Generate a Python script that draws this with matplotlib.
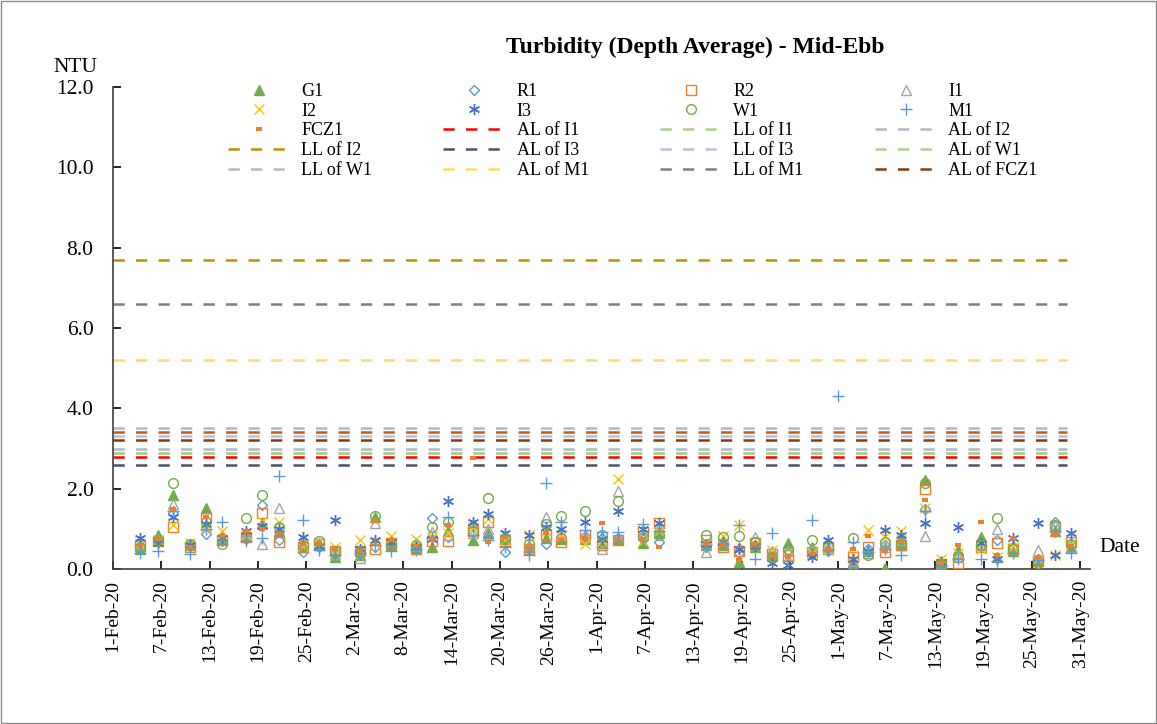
import numpy as np
import matplotlib
matplotlib.use("Agg")
import matplotlib.pyplot as plt
import datetime as dt

plt.rcParams['font.family'] = ['Liberation Serif', 'DejaVu Serif']

# ---- data -------------------------------------------------------------
nan = np.nan
day_offsets = [3.4, 5.6, 7.5, 9.6, 11.5, 13.5, 16.5, 18.5, 20.6, 23.6,
               25.5, 27.6, 30.6, 32.5, 34.5, 37.6, 39.6, 41.5, 44.6, 46.5,
               48.6, 51.6, 53.7, 55.6, 58.6, 60.7, 62.6, 65.7, 67.7, 73.6,
               75.7, 77.7, 79.6, 81.8, 83.7, 86.7, 88.7, 89.9, 91.8, 93.7, 95.8,
               97.7, 100.7, 102.7, 104.8, 107.7, 109.7, 111.7, 114.7, 116.8, 118.8]
start = dt.datetime(2020, 2, 1)
dates = [start + dt.timedelta(days=d) for d in day_offsets]

G1 = [.50, .85, 1.84, .60, 1.53, .75, .85, 1.15, .95, .55,
      .60, .30, .35, 1.30, .60, .52, .55, .95, .72, .89,
      .75, .55, .76, .75, .75, .65, .75, .64, .90, .60,
      .60, .18, .55, .35, .64, .55, .50, nan, .15, .45, .03,
      .60, 2.22, .10, .47, .80, .30, .45, .20, .95, .55]
R1 = [.55, .68, 1.40, .58, .88, .70, .75, 1.60, .72, .43,
      .55, .40, .40, .55, .62, .55, 1.26, .80, 1.10, .80,
      .43, .50, .62, .80, .82, .76, .78, .75, .68, .55,
      .65, .39, .60, .40, .40, .45, .45, nan, .06, .50, .60,
      .70, 1.49, .15, .35, .55, .72, .55, .25, 1.18, .60]
R2 = [.58, .70, 1.05, .55, 1.28, .72, .80, 1.40, .66, .55,
      .62, .45, .45, .51, .65, .50, .70, .70, .95, 1.16,
      .70, .51, .85, .68, .85, .60, .72, .93, 1.15, .72,
      .54, .45, .65, .38, .35, .43, .52, nan, .29, .55, .43,
      .60, 1.98, .12, .14, .54, .64, .50, .20, 1.05, .68]
I1 = [.62, .75, 1.62, .62, 1.10, .80, .90, .62, 1.51, .60,
      .65, .38, .27, 1.15, .70, .58, .93, .85, .90, 1.00,
      .80, .60, 1.30, .93, .80, .49, 1.93, .85, 1.05, .43,
      .70, .55, .80, .45, .45, .50, .55, nan, .20, .40, .55,
      .72, .83, .20, .30, .60, .99, .60, .47, 1.10, .55]
I2 = [.65, .72, 1.10, .65, 1.05, .95, .85, 1.20, 1.18, .58,
      .68, .55, .72, .65, .82, .74, .80, .90, 1.05, 1.25,
      .72, .85, .95, .85, .62, .70, 2.25, .70, .95, .65,
      .82, 1.10, .60, .47, .30, .40, .48, nan, .35, .97, .80,
      .95, 1.53, .25, .40, .50, .30, .55, .25, .35, .62]
I3 = [.78, .65, 1.30, .60, 1.12, .78, .95, 1.08, 1.00, .80,
      .58, 1.22, .50, .72, .68, .55, .75, 1.70, 1.18, 1.37,
      .90, .85, 1.05, 1.00, 1.18, .75, 1.45, 1.00, 1.14, .62,
      .68, .51, .58, .14, .10, .30, .72, nan, .25, .45, .97,
      .85, 1.15, .18, 1.04, .65, .25, .78, 1.14, .35, .89]
W1 = [.55, .72, 2.15, .62, 1.18, .62, 1.26, 1.83, 1.04, .60,
      .70, .45, .42, 1.33, .58, .60, 1.04, 1.18, .95, 1.76,
      .78, .62, 1.12, 1.32, 1.45, .85, 1.69, .80, .85, .85,
      .80, .82, .68, .30, .50, .72, .55, nan, .76, .35, .68,
      .65, 2.13, .12, .30, .60, 1.26, .50, .15, 1.10, .62]
M1 = [.40, .45, 1.45, .37, 1.00, 1.16, .70, .76, 2.32, 1.22,
      .47, .35, .40, .60, .46, .48, .78, 1.30, .85, .72,
      .55, .35, 2.15, 1.18, .97, .93, .93, 1.12, .95, .60,
      .62, 1.10, .24, .89, .20, 1.22, .48, 4.30, .68, .42, .50,
      .35, 1.45, .08, .25, .24, .20, .40, .22, .95, .39]
FCZ1 = [.60, .75, 1.50, .55, 1.30, .82, .95, 1.00, .90, .62,
        .65, .50, .45, 1.20, .72, .57, .75, 1.10, 2.77, .66,
        .80, .55, .90, .72, .78, 1.15, .75, .72, .54, .65,
        .60, .22, .62, .33, .30, .38, .50, nan, .50, .83, .45,
        .70, 1.72, .15, .60, 1.18, .35, .76, .28, .85, .58]

limit_names = ["AL of I1", "LL of I1", "AL of I2", "LL of I2", "AL of I3", "LL of I3",
               "AL of W1", "LL of W1", "AL of M1", "LL of M1", "AL of FCZ1", "LL of FCZ1"]
limit_values = [2.79, 2.89, 3.51, 7.70, 2.59, 3.32, 2.89, 2.99, 5.20, 6.60, 3.22, 3.41]
limit_colors = ["#FF0000", "#A9D18E", "#ADB9CA", "#BF9000", "#44546A", "#B4C2D8",
                "#A9D18E", "#ADB9CA", "#FFD966", "#7F7F7F", "#843C0C", "#C55A11"]
line_span = [0.0, 118.3]

series_names = ["G1", "R1", "R2", "I1", "I2", "I3", "W1", "M1", "FCZ1"]
series_values = [G1, R1, R2, I1, I2, I3, W1, M1, FCZ1]
y_ticks = [0, 2, 4, 6, 8, 10, 12]

# ---- styles -----------------------------------------------------------
styles = {
    "G1":   dict(marker="^", ms=7, mfc="#70AD47", mec="#70AD47", mew=1.0),
    "R1":   dict(marker="D", ms=5, mfc="none", mec="#5B9BD5", mew=1.0),
    "R2":   dict(marker="s", ms=7, mfc="none", mec="#ED7D31", mew=1.0),
    "I1":   dict(marker="^", ms=7, mfc="none", mec="#A5A5A5", mew=1.0),
    "I2":   dict(marker="x", ms=7, mfc="none", mec="#FFC000", mew=1.0),
    "I3":   dict(marker=(6, 2, 0), ms=8, mfc="none", mec="#4472C4", mew=1.0),
    "W1":   dict(marker="o", ms=7, mfc="none", mec="#70AD47", mew=1.0),
    "M1":   dict(marker="+", ms=8, mfc="none", mec="#5B9BD5", mew=1.0),
    "FCZ1": dict(marker="_", ms=5, mfc="#ED7D31", mec="#ED7D31", mew=3.0),
}

W, H = 1157, 724
fig = plt.figure(figsize=(W / 100, H / 100), dpi=100)
fig.patches.append(plt.Rectangle((0.001, 0.001), 0.998, 0.997, transform=fig.transFigure,
                                 fill=False, edgecolor="#8C8C8C", lw=1.0))

ax_l, ax_r, ax_b, ax_t = 113, 1090, 569, 87
ax = fig.add_axes([ax_l / W, 1 - ax_b / H, (ax_r - ax_l) / W, (ax_b - ax_t) / H])

handles = {}
for name, col, val in zip(limit_names, limit_colors, limit_values):
    x0 = start + dt.timedelta(days=line_span[0])
    x1 = start + dt.timedelta(days=line_span[1])
    ln, = ax.plot([x0, x1], [val, val], color=col, lw=1.8, ls=(0, (4.5, 4.5)), zorder=1)
    handles[name] = ln

for name, vals in zip(series_names, series_values):
    st = styles[name]
    h, = ax.plot(dates, vals, ls="none", zorder=3, **st)
    handles[name] = h

ax.set_ylim(0, 12)
ax.set_yticks(y_ticks)
ax.set_yticklabels([f"{v:.1f}" for v in y_ticks])
ax.set_xlim(start, start + dt.timedelta(days=121.2))
xt = [start + dt.timedelta(days=6 * i) for i in range(21)]
ax.set_xticks(xt)
ax.set_xticklabels([f"{d.day}-{d.strftime('%b')}-{d.strftime('%y')}" for d in xt],
                   rotation=90, fontsize=14)
ax.tick_params(axis="both", direction="in", length=6, width=1.2, colors="black")
ax.tick_params(axis="y", labelsize=15.5, pad=14)
ax.tick_params(axis="x", pad=8)
for s in ["top", "right"]:
    ax.spines[s].set_visible(False)
for s in ["left", "bottom"]:
    ax.spines[s].set_linewidth(1.2)
    ax.spines[s].set_color("#404040")

fig.text(75 / W, 1 - 68 / H, "NTU", fontsize=15.5, ha="center", va="center")
fig.text(1120 / W, 1 - 548 / H, "Date", fontsize=15.5, ha="center", va="center")
fig.text(695 / W, 1 - 47 / H, "Turbidity (Depth Average) - Mid-Ebb", fontsize=17,
         fontweight="bold", ha="center", va="center")

order = ["G1", "I2", "FCZ1", "LL of I2", "LL of W1",
         "R1", "I3", "AL of I1", "AL of I3", "AL of M1",
         "R2", "W1", "LL of I1", "LL of I3", "LL of M1",
         "I1", "M1", "AL of I2", "AL of W1", "AL of FCZ1"]
leg = ax.legend([handles[n] for n in order], order, ncol=4, loc="upper left",
                bbox_to_anchor=((228 - ax_l) / (ax_r - ax_l), (ax_b - 83) / (ax_b - ax_t)),
                frameon=False, fontsize=13, handlelength=3.4, handletextpad=0.65,
                columnspacing=3.95, labelspacing=0.15, borderaxespad=0, borderpad=0)

fig.savefig("out.png", dpi=100)
